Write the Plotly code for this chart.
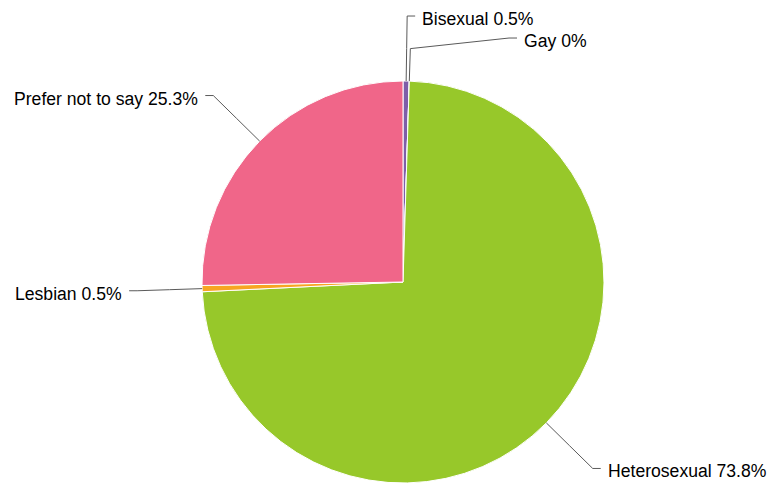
import math
import plotly.graph_objects as go

# Survey breakdown (percent of respondents)
categories = ["Bisexual", "Gay", "Heterosexual", "Lesbian", "Prefer not to say"]
values = [0.5, 0, 73.8, 0.5, 25.3]
colors = ["#7e5ea8", "#5b8fd6", "#97c82a", "#f7a522", "#f06689"]

W, H = 769, 484
CX, CY, R = 403, 282, 201          # pie centre and radius in pixels
DIST = 65                          # label distance beyond the rim
STEP = 22                          # minimum vertical gap between labels
STUB = 8                           # horizontal connector stub
GAP = 6                            # gap between stub and text
FONT = dict(family="Liberation Sans, Arial, sans-serif", size=17.6, color="#000000")

fig = go.Figure()
fig.add_trace(go.Pie(
    labels=categories,
    values=values,
    sort=False,
    direction="clockwise",
    rotation=0,
    textinfo="none",
    hoverinfo="label+percent",
    marker=dict(colors=colors, line=dict(color="#ffffff", width=1)),
    domain=dict(x=[(CX - R) / W, (CX + R) / W],
                y=[(H - CY - R) / H, (H - CY + R) / H]),
    showlegend=False,
))

# Mid-angle of every slice (clockwise from 12 o'clock)
total = sum(values)
labels = []
acc = 0.0
for name, v in zip(categories, values):
    mid = (acc + v / 2) / total * 2 * math.pi
    acc += v
    s, c = math.sin(mid), math.cos(mid)
    labels.append(dict(
        name=name, value=v, s=s, c=c,
        right=s >= 0,
        y=CY - (R + DIST) * c,
    ))

# Push overlapping labels apart on each side, then fit x onto the label circle
for side in (True, False):
    group = sorted([l for l in labels if l["right"] == side], key=lambda l: l["y"])
    prev = None
    for l in group:
        if prev is not None and l["y"] < prev + STEP:
            l["y"] = prev + STEP
        prev = l["y"]

RL = R + DIST
for l in labels:
    dy = l["y"] - CY
    dx = math.sqrt(max(RL * RL - dy * dy, 0.0))
    sign = 1 if l["right"] else -1
    ex = CX + sign * dx
    touch = (CX + R * l["s"], CY - R * l["c"])
    brk = (CX + (R + DIST / 2) * l["s"], CY - (R + DIST / 2) * l["c"])
    end = ex + sign * STUB
    pts = [touch, brk, (ex, l["y"]), (end, l["y"])]
    path = "M " + " L ".join(f"{x:.2f},{y:.2f}" for x, y in pts)
    fig.add_shape(type="path", path=path, xref="x", yref="y",
                  line=dict(color="#5a5a5a", width=1))
    pct = f"{l['value']:g}%"
    fig.add_annotation(
        x=end + sign * GAP, y=l["y"] + 3, xref="x", yref="y",
        text=f"{l['name']} {pct}", showarrow=False,
        xanchor="left" if l["right"] else "right", yanchor="middle",
        font=FONT, borderpad=0,
    )

fig.update_layout(
    width=W, height=H,
    margin=dict(l=0, r=0, t=0, b=0),
    paper_bgcolor="#ffffff", plot_bgcolor="rgba(0,0,0,0)",
    xaxis=dict(range=[0, W], visible=False, fixedrange=True, domain=[0, 1]),
    yaxis=dict(range=[H, 0], visible=False, fixedrange=True, domain=[0, 1]),
)

fig.write_html("out.html")
